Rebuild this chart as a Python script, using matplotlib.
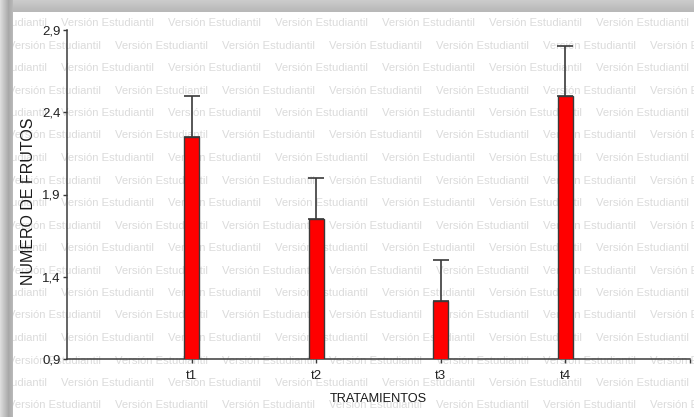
import numpy as np
import matplotlib
matplotlib.use("Agg")
import matplotlib.pyplot as plt
from matplotlib import font_manager
from matplotlib.ticker import FuncFormatter

# Data: mean number of fruits per treatment, with upper error
tratamientos = ["t1", "t2", "t3", "t4"]
medias = [2.25, 1.75, 1.25, 2.50]
error_sup = [0.25, 0.25, 0.25, 0.30]
yticks = [0.9, 1.4, 1.9, 2.4, 2.9]
marca_agua = "Versión Estudiantil"

W, H = 694, 417
names = {f.name for f in font_manager.fontManager.ttflist}
narrow = "Liberation Sans Narrow" if "Liberation Sans Narrow" in names else "Liberation Sans"
narrow_scale = 1.0 if narrow == "Liberation Sans Narrow" else 0.82
plt.rcParams["font.family"] = ["Liberation Sans", "DejaVu Sans"]

fig = plt.figure(figsize=(W / 100, H / 100), dpi=100)
fig.patch.set_facecolor("white")

# Page background: watermark rows and drop shadow
bg = fig.add_axes([0, 0, 1, 1], zorder=0)
bg.set_xlim(0, W)
bg.set_ylim(H, 0)
bg.axis("off")
period = 107
row_h = 22.5
for r in range(-1, 20):
    y = 23 + r * row_h
    x0 = 61 if r % 2 == 0 else 8
    x = x0 - period * 2
    while x < W + 10:
        bg.text(x, y, marca_agua, fontsize=9.9 * narrow_scale, family=narrow,
                color="#dbdbdb", ha="left", va="center")
        x += period

# shadow bands (top and left)
top = np.linspace(0.80, 0.72, 12)[:, None] * np.ones((1, W))
bg.imshow(top, extent=(0, W, 12, 0), cmap="gray", vmin=0, vmax=1,
          aspect="auto", interpolation="bilinear", zorder=5)
left = np.interp(np.arange(13), [0, 8, 12], [0.86, 0.66, 0.72])[None, :] * np.ones((H, 1))
bg.imshow(left, extent=(0, 13, H, 0), cmap="gray", vmin=0, vmax=1,
          aspect="auto", interpolation="bilinear", zorder=5)
bg.set_xlim(0, W)
bg.set_ylim(H, 0)

# Main chart
ax = fig.add_axes([67 / W, 1 - 359 / H, (690 - 67) / W, (359 - 30) / H], zorder=1)
ax.patch.set_alpha(0)
x = np.arange(1, len(tratamientos) + 1)
ax.bar(x, medias, width=0.12, color="#ff0000", edgecolor="#3a3a3a",
       linewidth=1.0, zorder=3)
ax.errorbar(x, medias, yerr=[np.zeros(len(medias)), error_sup], fmt="none",
            ecolor="#3a3a3a", elinewidth=1.2, capsize=5.6, capthick=1.2, zorder=2)

ax.set_xlim(0, 5)
ax.set_ylim(0.9, 2.9)
ax.set_yticks(yticks)
ax.yaxis.set_major_formatter(FuncFormatter(lambda v, p: f"{v:.1f}".replace(".", ",")))
ax.set_xticks(list(x) + [5])
ax.set_xticklabels(tratamientos + [""])
for s in ("top", "right"):
    ax.spines[s].set_visible(False)
for s in ("left", "bottom"):
    ax.spines[s].set_color("#3a3a3a")
    ax.spines[s].set_linewidth(1.1)
ax.tick_params(axis="both", direction="out", length=3, width=1, color="#3a3a3a",
               labelsize=9.5, labelcolor="#222222")
ax.tick_params(axis="y", pad=1.5)
ax.tick_params(axis="x", pad=5)
ax.set_ylabel("NUMERO DE FRUTOS", fontsize=11.5, color="#1a1a1a", va="center")
ax.yaxis.set_label_coords(-0.062, 0.48)
ax.set_xlabel("TRATAMIENTOS", fontsize=9.2, color="#1a1a1a", labelpad=8)

fig.savefig("out.png", dpi=100, facecolor="white")
